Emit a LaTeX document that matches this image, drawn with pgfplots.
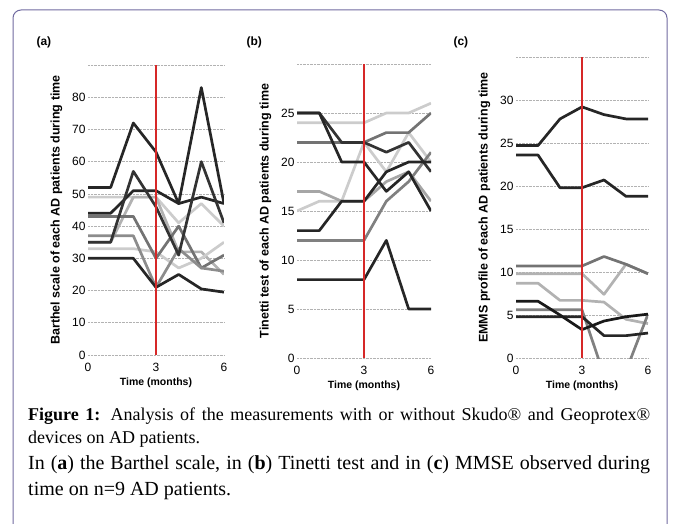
\documentclass[border=0pt]{standalone}
\usepackage{fontspec}
\setmainfont{Liberation Serif}
\setsansfont{Liberation Sans}
\usepackage{pgfplots}
\pgfplotsset{compat=1.18}

\definecolor{framecol}{RGB}{112,106,160}
\definecolor{vline}{RGB}{214,40,40}

\pgfplotsset{
  panel/.style={
    scale only axis, anchor=south west,
    xmin=0, xmax=6, xtick={0,3,6},
    axis line style={draw=none}, major tick length=0pt,
    ymajorgrids, grid style={black!30, densely dotted, line width=0.7pt},
    extra tick style={grid=major},
    /pgf/number format/assume math mode=true,
    tick label style={font=\sffamily\fontsize{12}{12}\selectfont},
    xticklabel style={yshift=-5pt},
    yticklabel style={xshift=1pt},
    xlabel={Time (months)},
    xlabel style={font=\sffamily\bfseries\fontsize{10.5}{10.5}\selectfont, yshift=1pt},
    ylabel style={font=\sffamily\bfseries\fontsize{12.5}{12.5}\selectfont, yshift=3pt},
    every axis plot/.append style={line width=2.7pt, line join=round, no marks},
  },
}

\begin{document}
\begin{tikzpicture}
\useasboundingbox (0pt,0pt) rectangle (679pt,523pt);
\begin{scope}
  \clip (0pt,0pt) rectangle (679pt,523pt);
  \draw[framecol, line width=1pt, rounded corners=8pt] (13pt,-20pt) rectangle (667pt,513pt);
\end{scope}

\node[anchor=base west, font=\sffamily\bfseries\fontsize{12}{12}\selectfont] at (33pt,477pt) {(a)};
\node[anchor=base west, font=\sffamily\bfseries\fontsize{12}{12}\selectfont] at (243pt,477pt) {(b)};
\node[anchor=base west, font=\sffamily\bfseries\fontsize{12}{12}\selectfont] at (450pt,477pt) {(c)};

% (a) Barthel scale
\begin{axis}[panel, at={(88pt,168pt)}, width=136pt, height=290pt,
  ymin=0, ymax=90, ytick={0,10,...,80},
  extra y ticks={90}, extra y tick labels={},
  ylabel={Barthel scale of each AD patients during time}]
\addplot[black!85] coordinates {(0,52)(1,52)(2,72)(3,63)(4,47)(5,83)(6,47)};
\addplot[black!20] coordinates {(0,49)(1,49)(2,49)(3,49)(4,41)(5,47)(6,40)};
\addplot[black!30] coordinates {(0,35)(1,35)(2,49)(3,49)(4,32)(5,32)(6,25)};
\addplot[black!20] coordinates {(0,33)(1,33)(2,33)(3,32)(4,27)(5,30)(6,35)};
\addplot[black!55] coordinates {(0,43)(1,43)(2,43)(3,30)(4,40)(5,27)(6,31)};
\addplot[black!45] coordinates {(0,37)(1,37)(2,37)(3,21)(4,33)(5,27)(6,26)};
\addplot[black!85] coordinates {(0,44)(1,44)(2,51)(3,51)(4,47)(5,49)(6,47)};
\addplot[black!80] coordinates {(0,35)(1,35)(2,57)(3,46)(4,31)(5,60)(6,41)};
\addplot[black!85] coordinates {(0,30)(1,30)(2,30)(3,21)(4,25)(5,20.5)(6,19.5)};
\addplot[vline, line width=1.2pt] coordinates {(3,0)(3,90)};
\end{axis}

% (b) Tinetti test
\begin{axis}[panel, at={(297pt,165pt)}, width=134pt, height=294pt,
  ymin=0, ymax=30, ytick={0,5,...,25},
  extra y ticks={30}, extra y tick labels={},
  ylabel={Tinetti test of each AD patients during time}]
\addplot[black!20] coordinates {(0,24)(1,24)(2,24)(3,24)(4,25)(5,25)(6,26)};
\addplot[black!20] coordinates {(0,15)(1,16)(2,16)(3,22)(4,19)(5,23)(6,20)};
\addplot[black!35] coordinates {(0,17)(1,17)(2,16)(3,16)(4,18)(5,19)(6,16)};
\addplot[black!55] coordinates {(0,22)(1,22)(2,22)(3,22)(4,23)(5,23)(6,25)};
\addplot[black!50] coordinates {(0,12)(1,12)(2,12)(3,12)(4,16)(5,18)(6,21)};
\addplot[black!80] coordinates {(0,25)(1,25)(2,22)(3,22)(4,21)(5,22)(6,19)};
\addplot[black!85] coordinates {(0,25)(1,25)(2,20)(3,20)(4,17)(5,19)(6,15)};
\addplot[black!85] coordinates {(0,13)(1,13)(2,16)(3,16)(4,19)(5,20)(6,20)};
\addplot[black!85] coordinates {(0,8)(1,8)(2,8)(3,8)(4,12)(5,5)(6,5)};
\addplot[vline, line width=1.2pt] coordinates {(3,0)(3,30)};
\end{axis}

% (c) EMMS profile
\begin{axis}[panel, at={(516pt,165pt)}, width=132pt, height=301pt,
  ymin=0, ymax=35, ytick={0,5,...,30},
  extra y ticks={35}, extra y tick labels={},
  ylabel={EMMS profile of each AD patients during time}]
\addplot[black!30] coordinates {(0,9.8)(1,9.8)(2,9.8)(3,9.8)(4,7.4)(5,10.9)(6,9.8)};
\addplot[black!55] coordinates {(0,10.7)(1,10.7)(2,10.7)(3,10.7)(4,11.8)(5,10.9)(6,9.8)};
\addplot[black!30] coordinates {(0,8.7)(1,8.7)(2,6.7)(3,6.7)(4,6.5)(5,4.5)(6,4)};
\addplot[black!50] coordinates {(0,5.6)(1,5.6)(2,5.6)(3,5.6)(4,-2)(5,-1.5)(6,5.1)};
\addplot[black!85] coordinates {(0,4.8)(1,4.8)(2,4.8)(3,4.8)(4,2.6)(5,2.6)(6,2.9)};
\addplot[black!90] coordinates {(0,6.6)(1,6.6)(2,5)(3,3.3)(4,4.3)(5,4.8)(6,5.1)};
\addplot[black!85] coordinates {(0,24.7)(1,24.7)(2,27.8)(3,29.2)(4,28.3)(5,27.8)(6,27.8)};
\addplot[black!85] coordinates {(0,23.6)(1,23.6)(2,19.8)(3,19.8)(4,20.7)(5,18.8)(6,18.8)};
\addplot[vline, line width=1.2pt] coordinates {(3,0)(3,35)};
\end{axis}

% caption
\node[anchor=base west, inner sep=0pt, font=\fontsize{18}{18}\selectfont] at (28pt,103pt)
  {\makebox[622pt][s]{\textbf{Figure 1:} Analysis of the measurements with or without Skudo® and Geoprotex®}};
\node[anchor=base west, inner sep=0pt, font=\fontsize{18}{18}\selectfont] at (28pt,80pt)
  {devices on AD patients.};
\node[anchor=base west, inner sep=0pt, font=\fontsize{20}{20}\selectfont] at (28pt,54pt)
  {\makebox[622pt][s]{In (\textbf{a}) the Barthel scale, in (\textbf{b}) Tinetti test and in (\textbf{c}) MMSE observed during}};
\node[anchor=base west, inner sep=0pt, font=\fontsize{20}{20}\selectfont] at (28pt,28pt)
  {time on n=9 AD patients.};
\end{tikzpicture}
\end{document}
